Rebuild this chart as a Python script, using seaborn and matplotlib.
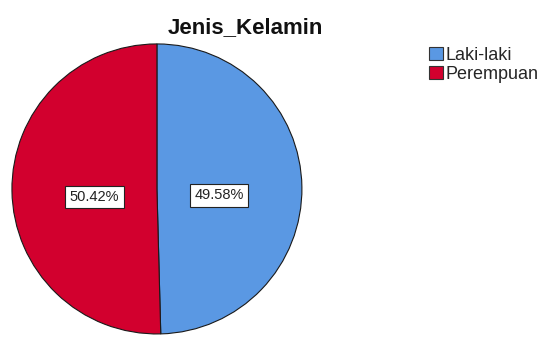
import matplotlib
matplotlib.use("Agg")
import matplotlib.pyplot as plt
import seaborn as sns
import numpy as np
from matplotlib.patches import Patch

categories = ["Laki-laki", "Perempuan"]
values = [49.58, 50.42]
pct_labels = ["49.58%", "50.42%"]
colors = ["#5A98E3", "#D2002E"]
title = "Jenis_Kelamin"

sns.set_theme(style="white")
plt.rcParams['font.family'] = ['Liberation Sans', 'DejaVu Sans']

fig = plt.figure(figsize=(5.43, 3.38), dpi=100)
ax = fig.add_axes([0.022, 0.012, 0.534, 0.858])
wedges, _ = ax.pie(values, colors=sns.color_palette(colors), startangle=90, counterclock=False,
                   wedgeprops=dict(edgecolor="#1a1a1a", linewidth=0.8))
ax.set_aspect('auto')
ax.set_xlim(-1, 1)
ax.set_ylim(-1, 1)
ax.axis('off')

for w, lab in zip(wedges, pct_labels):
    mid = np.deg2rad((w.theta1 + w.theta2) / 2)
    r = 0.43
    ax.text(r * np.cos(mid), r * np.sin(mid) - 0.05, lab, ha='center', va='center', fontsize=10.5,
            color='#222222',
            bbox=dict(boxstyle='square,pad=0.3', facecolor='white', edgecolor='#222222', linewidth=0.8))

fig.text(0.451, 0.917, title, ha='center', va='center', fontsize=16, fontweight='bold', color='#111111')

handles = [Patch(facecolor=c, edgecolor='#333333', linewidth=0.8) for c in colors]
fig.legend(handles, categories, loc='upper left', bbox_to_anchor=(0.79, 0.862), frameon=False,
           fontsize=13, handlelength=0.8, handleheight=0.8, handletextpad=0.1, labelspacing=0.1,
           borderpad=0, borderaxespad=0)

fig.savefig("out.png", dpi=100)
